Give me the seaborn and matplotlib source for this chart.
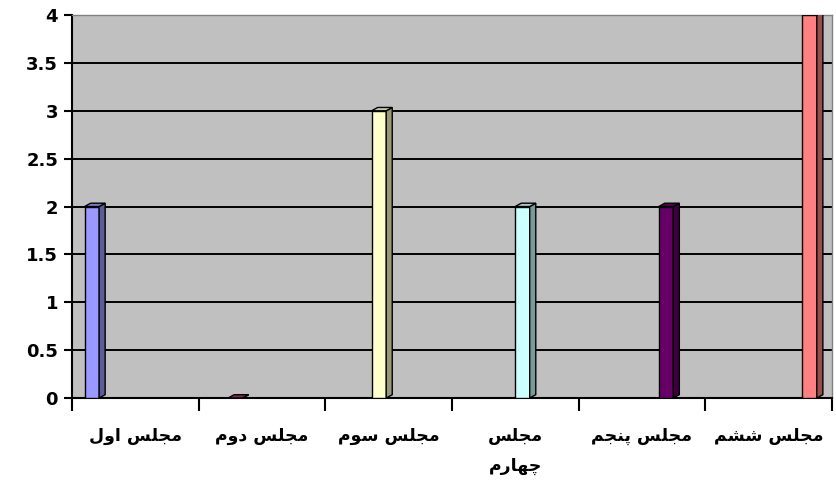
import numpy as np
import pandas as pd
import matplotlib
matplotlib.use('Agg')
import matplotlib.pyplot as plt
import seaborn as sns
from matplotlib.patches import Polygon
from matplotlib.ticker import FixedLocator, NullFormatter

categories = ['مجلس اول', 'مجلس دوم', 'مجلس سوم', 'مجلس چهارم', 'مجلس پنجم', 'مجلس ششم']
values = [2, 0, 3, 2, 2, 4]
bar_colors = ['#9999ff', '#993366', '#ffffcc', '#ccffff', '#660066', '#ff8080']
yticks = [0, 0.5, 1, 1.5, 2, 2.5, 3, 3.5, 4]

# matplotlib has no arabic shaping, so pick presentation forms by hand
FORMS = {
    'ا': ('\uFE8D', '\uFE8E', None, None),
    'د': ('\uFEA9', '\uFEAA', None, None),
    'ر': ('\uFEAD', '\uFEAE', None, None),
    'و': ('\uFEED', '\uFEEE', None, None),
    'م': ('\uFEE1', '\uFEE2', '\uFEE3', '\uFEE4'),
    'ج': ('\uFE9D', '\uFE9E', '\uFE9F', '\uFEA0'),
    'ل': ('\uFEDD', '\uFEDE', '\uFEDF', '\uFEE0'),
    'س': ('\uFEB1', '\uFEB2', '\uFEB3', '\uFEB4'),
    'ش': ('\uFEB5', '\uFEB6', '\uFEB7', '\uFEB8'),
    'ن': ('\uFEE5', '\uFEE6', '\uFEE7', '\uFEE8'),
    'ه': ('\uFEE9', '\uFEEA', '\uFEEB', '\uFEEC'),
    'چ': ('\uFB7A', '\uFB7B', '\uFB7C', '\uFB7D'),
    'پ': ('\uFB56', '\uFB57', '\uFB58', '\uFB59'),
}
DUAL = set('مجلسشنهچپ')


def shape(text):
    out = []
    for i, c in enumerate(text):
        if c not in FORMS:
            out.append(c)
            continue
        prev = text[i - 1] if i > 0 else None
        nxt = text[i + 1] if i + 1 < len(text) else None
        jp = prev in DUAL
        jn = c in DUAL and nxt in FORMS
        iso, fin, ini, med = FORMS[c]
        if jp and jn:
            out.append(med)
        elif jp:
            out.append(fin)
        elif jn:
            out.append(ini)
        else:
            out.append(iso)
    return ''.join(reversed(out))


def label(cat):
    if cat == 'مجلس چهارم':
        return '\n'.join(shape(w) for w in cat.split(' '))
    return shape(cat)


df = pd.DataFrame({'cat': categories, 'val': values})

fig = plt.figure(figsize=(8.36, 4.86), dpi=100)
fig.patch.set_facecolor('white')
ax = fig.add_axes([0.086, 0.181, 0.909, 0.788])
ax.set_facecolor('#c0c0c0')

ax.set_axisbelow(True)
ax.yaxis.grid(True, color='black', linewidth=1.4)

sns.barplot(data=df, x='cat', y='val', hue='cat', dodge=True,
            palette=bar_colors, saturation=1, width=0.8, legend=False, ax=ax,
            edgecolor='black', linewidth=1.0, zorder=3)

ax.set_xlim(-0.5, 5.5)
ax.set_ylim(0, 4)

# fake 3d: side and top faces from the drawn bars
dx, dy = 0.048, 0.035
for p in list(ax.patches):
    x0 = p.get_x()
    w = p.get_width()
    h = p.get_height()
    if np.isnan(h):
        continue
    fc = p.get_facecolor()
    front = w * 0.86
    p.set_width(front)
    x1 = x0 + front
    dark = tuple(np.array(fc[:3]) * 0.6) + (1,)
    side = Polygon([(x1, 0), (x1 + dx, dy), (x1 + dx, h + dy), (x1, h)],
                   closed=True, facecolor=dark, edgecolor='black', linewidth=1.0, zorder=3)
    top = Polygon([(x0, h), (x0 + dx, h + dy), (x1 + dx, h + dy), (x1, h)],
                  closed=True, facecolor=tuple(np.array(fc[:3]) * 0.8) + (1,),
                  edgecolor='black', linewidth=1.0, zorder=3)
    ax.add_patch(side)
    ax.add_patch(top)

ax.set_yticks(yticks)
ax.set_yticklabels([f'{t:g}' for t in yticks], fontsize=13, fontweight='bold')
ax.tick_params(axis='y', length=6, width=1.5, pad=4)

ax.set_xticks(range(len(categories)))
ax.set_xticklabels([label(c) for c in categories], fontsize=12.5, fontweight='bold',
                   family=['DejaVu Sans'], linespacing=1.8, va='top')
ax.tick_params(axis='x', which='major', length=0, pad=21)
ax.xaxis.set_minor_locator(FixedLocator(np.arange(-0.5, 6, 1)))
ax.xaxis.set_minor_formatter(NullFormatter())
ax.tick_params(axis='x', which='minor', length=9, width=1.5)

ax.set_xlabel('')
ax.set_ylabel('')
for s in ['top', 'right']:
    ax.spines[s].set_color('#808080')
    ax.spines[s].set_linewidth(1.0)
for s in ['left', 'bottom']:
    ax.spines[s].set_color('black')
    ax.spines[s].set_linewidth(1.5)

fig.savefig('out.png', dpi=100)
